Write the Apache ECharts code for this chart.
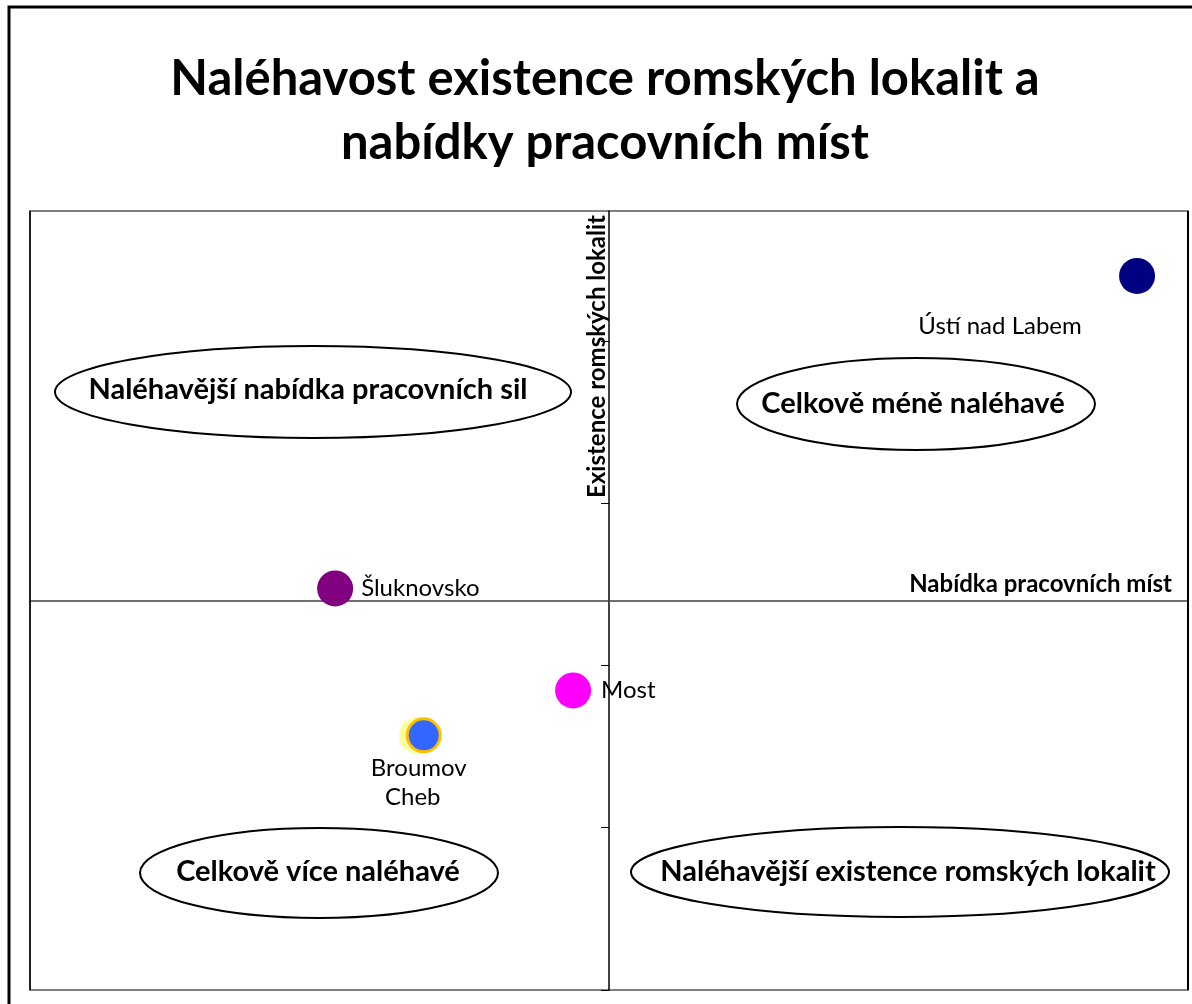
<!DOCTYPE html>
<html>
<head>
<meta charset="utf-8">
<script src="https://cdn.jsdelivr.net/npm/echarts@6/dist/echarts.min.js"></script>
<style>
html,body{margin:0;padding:0;background:#fff;}
#chart{width:1192px;height:1004px;}
</style>
</head>
<body>
<div id="chart"></div>
<script>
// ---- data ----
const places = ['Cheb', 'Broumov', 'Ústí nad Labem', 'Šluknovsko', 'Most'];
const jobSupply = [-0.332, -0.320, 0.912, -0.473, -0.062];          // Nabídka pracovních míst (centred)
const localityUrgency = [-0.831, -0.831, 2.0, 0.074, -0.554];      // Existence romských lokalit (centred)
const pointColors = ['rgba(255,255,140,0.85)', '#3366FF', '#000080', '#800080', '#FF00FF'];
const yTickValues = [-2.4, -1.4, -0.4, 0.6, 1.6];
const quadrantLabels = [
  'Naléhavější nabídka pracovních sil',
  'Celkově méně naléhavé',
  'Celkově více naléhavé',
  'Naléhavější existence romských lokalit'
];
const titleText = 'Naléhavost existence romských lokalit a\nnabídky pracovních míst';
const xAxisName = 'Nabídka pracovních míst';
const yAxisName = 'Existence romských lokalit';

const FONT = 'Lato, "Open Sans", sans-serif';

const labelCfg = {
  'Ústí nad Labem': {position: 'inside', offset: [-137, 50]},
  'Šluknovsko': {position: 'right', distance: 8},
  'Most': {position: 'right', distance: 10},
  'Broumov': {position: 'inside', offset: [-5, 33]},
  'Cheb': {position: 'inside', offset: [-4, 62]}
};

const series = places.map((p, i) => {
  const isBroumov = p === 'Broumov';
  return {
    type: 'scatter',
    name: p,
    symbol: 'circle',
    symbolSize: isBroumov ? 33 : 36,
    z: 3 + i,
    data: [[jobSupply[i], localityUrgency[i]]],
    itemStyle: {
      color: pointColors[i],
      opacity: 1,
      borderColor: isBroumov ? '#FFC000' : 'transparent',
      borderWidth: isBroumov ? 3 : 0
    },
    label: Object.assign({
      show: true,
      formatter: p,
      color: '#000',
      opacity: 1,
      fontFamily: FONT,
      fontSize: 24
    }, labelCfg[p]),
    emphasis: {disabled: true}
  };
});

// Quadrant ellipse annotations (pixel layout)
const ellipses = [
  {cx: 313, cy: 392, rx: 258, ry: 46, tx: 308, ty: 390},
  {cx: 916, cy: 404, rx: 179, ry: 46, tx: 913, ty: 404},
  {cx: 319, cy: 873, rx: 179, ry: 45, tx: 318, ty: 872},
  {cx: 900, cy: 872, rx: 269, ry: 45, tx: 908, ty: 872}
];
const graphics = [
  {type: 'rect', shape: {x: 9, y: 7, width: 1200, height: 1010}, style: {fill: 'none', stroke: '#000', lineWidth: 3}, z: 0, silent: true},
  {type: 'line', shape: {x1: 30, y1: 211, x2: 30, y2: 990}, style: {stroke: '#000', lineWidth: 1.5}, z: 10, silent: true},
  {type: 'line', shape: {x1: 1188, y1: 211, x2: 1188, y2: 990}, style: {stroke: '#000', lineWidth: 2}, z: 10, silent: true}
];
ellipses.forEach((e, i) => {
  graphics.push({type: 'ellipse', shape: {cx: e.cx, cy: e.cy, rx: e.rx, ry: e.ry},
    style: {fill: '#fff', stroke: '#000', lineWidth: 2}, z: 20, silent: true});
  graphics.push({type: 'text', x: e.tx, y: e.ty, z: 21, silent: true,
    style: {text: quadrantLabels[i], fill: '#000', font: 'bold 29px ' + FONT, textAlign: 'center', textVerticalAlign: 'middle'}});
});

const chart = echarts.init(document.getElementById('chart'), null, {renderer: 'canvas'});
chart.setOption({
  backgroundColor: '#fff',
  animation: false,
  title: {
    text: titleText,
    left: 600,
    top: 42,
    textAlign: 'center',
    textStyle: {fontFamily: FONT, fontWeight: 'bold', fontSize: 49, lineHeight: 64, color: '#000'}
  },
  grid: {left: 30, right: 4, top: 211, bottom: 14, show: true, borderColor: '#808080', borderWidth: 2, backgroundColor: '#fff'},
  xAxis: {
    type: 'value', min: -1, max: 1,
    axisLine: {onZero: true, lineStyle: {color: '#404040', width: 1.5}},
    axisTick: {show: false}, axisLabel: {show: false}, splitLine: {show: false},
    name: xAxisName, nameLocation: 'end', nameGap: -16,
    nameTextStyle: {fontFamily: FONT, fontWeight: 'bold', fontSize: 24, color: '#000', align: 'right', verticalAlign: 'bottom', padding: [0, 0, 4, 0]}
  },
  yAxis: {
    type: 'value', min: -2.4, max: 2.4,
    axisLine: {onZero: true, lineStyle: {color: '#000', width: 1.5}},
    axisTick: {show: true, customValues: yTickValues, length: 8, lineStyle: {color: '#000', width: 1}},
    axisLabel: {show: false}, splitLine: {show: false},
    name: yAxisName, nameLocation: 'end', nameGap: -4, nameRotate: 90,
    nameTextStyle: {fontFamily: FONT, fontWeight: 'bold', fontSize: 24, color: '#000', align: 'right', verticalAlign: 'bottom', padding: [0, 0, 0, 0]}
  },
  graphic: graphics,
  series: series
});
</script>
</body>
</html>
